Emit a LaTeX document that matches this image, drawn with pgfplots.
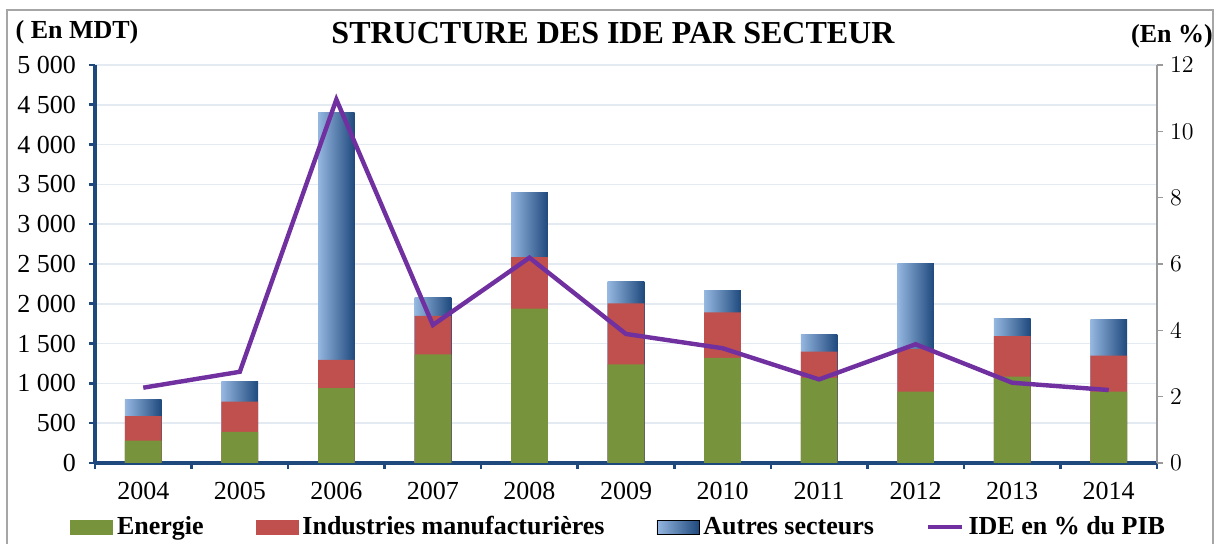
\documentclass[border=0pt]{standalone}
\usepackage{pgfplots}
\pgfplotsset{compat=1.18}
\usepackage{pgfplotstable}
\usepackage{fontspec}
\setmainfont{Liberation Serif}
\definecolor{cgreen}{HTML}{77933C}
\definecolor{cred}{HTML}{C0504D}
\definecolor{cbluel}{HTML}{95B7E0}
\definecolor{cblued}{HTML}{1F497D}
\definecolor{cpurple}{HTML}{7030A0}
\definecolor{caxis}{HTML}{1F497D}
\definecolor{cgrid}{HTML}{E4EAF2}
% cumulative heights: E = Energie, EI = Energie + Industries
\pgfplotstableread{
x E EI
0 280 590
1 390 770
2 940 1295
3 1365 1847
4 1940 2585
5 1240 2006
6 1320 1893
7 1070 1400
8 895 1435
9 1085 1595
10 895 1348
}\bars
\pgfplotstableread{
x P
0 2.27
1 2.75
2 10.96
3 4.16
4 6.19
5 3.89
6 3.46
7 2.52
8 3.58
9 2.42
10 2.20
}\pib
\begin{document}
\begin{tikzpicture}
\path[use as bounding box] (0,0) rectangle (611pt,272pt);
\draw[gray!70, line width=0.8pt] (3.5pt,-5pt) |- (606.5pt,267pt) -- (606.5pt,-5pt);
\node[font=\bfseries\fontsize{13}{15}\selectfont] at (38.5pt,256pt) {( En MDT)};
\node[font=\bfseries\fontsize{16}{18}\selectfont] at (306.5pt,255.5pt) {STRUCTURE DES IDE PAR SECTEUR};
\node[font=\bfseries\fontsize{13}{15}\selectfont] at (586pt,254pt) {(En \%)};
\begin{axis}[
  at={(47.5pt,40.5pt)}, anchor=south west,
  scale only axis, width=531pt, height=199pt,
  xmin=-0.5, xmax=10.5, ymin=0, ymax=5000,
  axis lines*=left,
  axis line style={draw=caxis, line width=1.6pt},
  ytick={0,500,...,5000},
  yticklabels={0,500,1 000,1 500,2 000,2 500,3 000,3 500,4 000,4 500,5 000},
  yticklabel style={xshift=-3pt},
  ymajorgrids, grid style={cgrid, line width=0.8pt},
  xtick={-0.5,0.5,...,10.5}, xticklabels={},
  extra x ticks={0,...,10},
  extra x tick labels={2004,2005,2006,2007,2008,2009,2010,2011,2012,2013,2014},
  extra x tick style={major tick length=0pt},
  tick align=outside, major tick length=3pt,
  tick style={draw=caxis, line width=1.3pt},
  tick label style={font=\fontsize{13}{15}\selectfont, text=black},
  xticklabel style={yshift=-6pt},
  ybar, bar width=0.38, bar shift=0pt,
  clip=false,
]
% Autres secteurs (total height of each bar), one plot per bar so each bar gets its own shading
\addplot[draw=none, left color=cbluel, right color=cblued, bar shift=0pt] coordinates {(0,800)};
\addplot[draw=none, left color=cbluel, right color=cblued, bar shift=0pt] coordinates {(1,1020)};
\addplot[draw=none, left color=cbluel, right color=cblued, bar shift=0pt] coordinates {(2,4400)};
\addplot[draw=none, left color=cbluel, right color=cblued, bar shift=0pt] coordinates {(3,2077)};
\addplot[draw=none, left color=cbluel, right color=cblued, bar shift=0pt] coordinates {(4,3400)};
\addplot[draw=none, left color=cbluel, right color=cblued, bar shift=0pt] coordinates {(5,2286)};
\addplot[draw=none, left color=cbluel, right color=cblued, bar shift=0pt] coordinates {(6,2173)};
\addplot[draw=none, left color=cbluel, right color=cblued, bar shift=0pt] coordinates {(7,1610)};
\addplot[draw=none, left color=cbluel, right color=cblued, bar shift=0pt] coordinates {(8,2505)};
\addplot[draw=none, left color=cbluel, right color=cblued, bar shift=0pt] coordinates {(9,1820)};
\addplot[draw=none, left color=cbluel, right color=cblued, bar shift=0pt] coordinates {(10,1808)};
\addplot[draw=none, fill=cred, bar shift=0pt] table[x=x,y=EI]{\bars};
\addplot[draw=none, fill=cgreen, bar shift=0pt] table[x=x,y=E]{\bars};
\end{axis}
\begin{axis}[
  at={(47.5pt,40.5pt)}, anchor=south west,
  scale only axis, width=531pt, height=199pt,
  xmin=-0.5, xmax=10.5, ymin=0, ymax=12,
  axis y line*=right, axis x line=none,
  y axis line style={draw=gray!80, line width=0.7pt},
  ytick={0,2,...,12},
  tick align=outside, major tick length=3pt,
  tick style={draw=gray!80, line width=0.7pt},
  tick label style={font=\fontsize{13}{15}\selectfont, text=black},
  clip=false,
  legend columns=4,
  legend style={at={(0.494,-0.161)}, anchor=center, draw=none, fill=none,
    font=\bfseries\fontsize{13}{15}\selectfont,
    /tikz/every even column/.append style={column sep=24pt},
    inner sep=0pt},
  legend cell align=left,
]
\addlegendimage{legend image code/.code={\fill[cgreen] (0pt,-3.5pt) rectangle (21pt,3.5pt);}}
\addlegendentry{Energie}
\addlegendimage{legend image code/.code={\fill[cred] (0pt,-3.5pt) rectangle (21pt,3.5pt);}}
\addlegendentry{Industries manufacturières}
\addlegendimage{legend image code/.code={\path[left color=cbluel, right color=cblued] (0pt,-3.5pt) rectangle (21pt,3.5pt);}}
\addlegendentry{Autres secteurs}
\addplot[cpurple, line width=2.2pt, mark=none, line join=miter]
  table[x=x,y=P]{\pib};
\addlegendentry{IDE en \% du PIB}
\end{axis}
\end{tikzpicture}
\end{document}
